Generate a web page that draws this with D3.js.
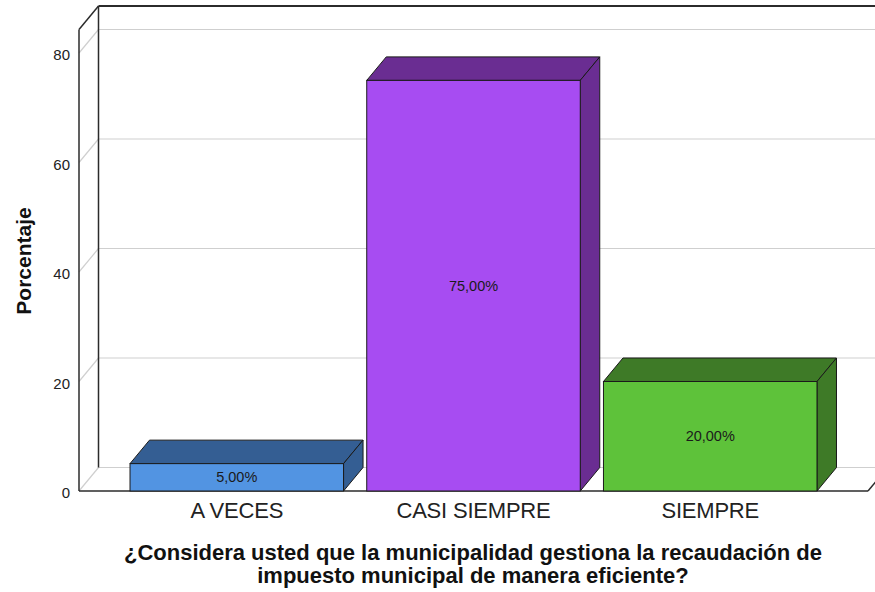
<!DOCTYPE html>
<html>
<head>
<meta charset="utf-8">
<script src="https://cdn.jsdelivr.net/npm/d3@7"></script>
<style>
  html, body { margin: 0; padding: 0; background: #fff; }
  svg { display: block; font-family: "Liberation Sans", Arial, sans-serif; }
</style>
</head>
<body>
<svg id="chart" width="875" height="592"></svg>
<script>
// ---- data ----
const categories = ["A VECES", "CASI SIEMPRE", "SIEMPRE"];
const values = [5, 75, 20];
const valueLabels = ["5,00%", "75,00%", "20,00%"];
const frontColors = ["#5294e2", "#a74cf2", "#5ec23a"];
const sideColors = ["#345e93", "#6a2d92", "#3e7a27"];
const yTicks = [0, 20, 40, 60, 80];
const yTitle = "Porcentaje";
const xTitleLines = ["¿Considera usted que la municipalidad gestiona la recaudación de",
                     "impuesto municipal de manera eficiente?"];

// ---- layout ----
const W = 875, H = 592;
const left = 79, right = 868;
const dx = 19.5, dy = -23.5;
const yMaxWall = 84.3;

const svg = d3.select("#chart");
const y = d3.scaleLinear().domain([0, 80]).range([491, 53]);
const x = d3.scaleBand().domain(categories).range([left, right])
  .paddingInner(0.098).paddingOuter(0.2155);

const y0 = y(0), yTop = y(yMaxWall);
const dark = "#2b2b2b", grid = "#cfcfcf";

const g = svg.append("g");
// gridlines (left wall diagonal + back wall)
yTicks.forEach(t => {
  const yy = y(t);
  g.append("line").attr("x1", left).attr("y1", yy).attr("x2", left + dx).attr("y2", yy + dy)
    .attr("stroke", grid).attr("stroke-width", 1.2);
  g.append("line").attr("x1", left + dx).attr("y1", yy + dy).attr("x2", W + 20).attr("y2", yy + dy)
    .attr("stroke", grid).attr("stroke-width", 1.2);
});
// back wall left edge & top
g.append("line").attr("x1", left + dx).attr("y1", yTop + dy).attr("x2", left + dx).attr("y2", y0 + dy)
  .attr("stroke", dark).attr("stroke-width", 1.5);
g.append("line").attr("x1", left + dx).attr("y1", yTop + dy).attr("x2", W + 20).attr("y2", yTop + dy)
  .attr("stroke", dark).attr("stroke-width", 2);
// left wall front edge & top diagonal
g.append("line").attr("x1", left).attr("y1", yTop).attr("x2", left).attr("y2", y0)
  .attr("stroke", dark).attr("stroke-width", 1.5);
g.append("line").attr("x1", left).attr("y1", yTop).attr("x2", left + dx).attr("y2", yTop + dy)
  .attr("stroke", dark).attr("stroke-width", 1.5);
// floor front edge and right diagonal
g.append("line").attr("x1", left).attr("y1", y0).attr("x2", right).attr("y2", y0)
  .attr("stroke", dark).attr("stroke-width", 1.5);
g.append("line").attr("x1", right).attr("y1", y0).attr("x2", right + dx).attr("y2", y0 + dy)
  .attr("stroke", dark).attr("stroke-width", 1.5);

// ---- bars ----
const data = categories.map((c, i) => ({ c, v: values[i], lab: valueLabels[i], f: frontColors[i], s: sideColors[i] }));
const bars = svg.append("g").selectAll("g").data(data).join("g");
bars.each(function(d) {
  const b = d3.select(this);
  const x0 = x(d.c), w = x.bandwidth(), y1 = y(d.v);
  b.append("path")
    .attr("d", `M${x0},${y1}L${x0 + dx},${y1 + dy}L${x0 + w + dx},${y1 + dy}L${x0 + w},${y1}Z`)
    .attr("fill", d.s).attr("stroke", "#1a1a1a").attr("stroke-width", 1).attr("stroke-linejoin", "round");
  b.append("path")
    .attr("d", `M${x0 + w},${y1}L${x0 + w + dx},${y1 + dy}L${x0 + w + dx},${y0 + dy}L${x0 + w},${y0}Z`)
    .attr("fill", d.s).attr("stroke", "#1a1a1a").attr("stroke-width", 1).attr("stroke-linejoin", "round");
  b.append("rect").attr("x", x0).attr("y", y1).attr("width", w).attr("height", y0 - y1)
    .attr("fill", d.f).attr("stroke", "#1a1a1a").attr("stroke-width", 1);
  b.append("text").attr("x", x0 + w / 2).attr("y", (y1 + y0) / 2)
    .attr("text-anchor", "middle").attr("dominant-baseline", "central")
    .attr("font-size", 14.5).attr("fill", "#1a1a1a").text(d.lab);
});

// ---- y axis labels ----
const yAxis = d3.axisLeft(y).tickValues(yTicks).tickSize(0).tickPadding(0).tickFormat(d3.format("d"));
const ya = svg.append("g").attr("transform", `translate(${left - 9},2)`).call(yAxis);
ya.select(".domain").remove();
ya.selectAll("text").attr("font-size", 15).attr("fill", "#222")
  .attr("font-family", '"Liberation Sans", Arial, sans-serif');

// ---- x category labels ----
svg.append("g").selectAll("text").data(categories).join("text")
  .attr("x", d => x(d) + x.bandwidth() / 2).attr("y", 518)
  .attr("text-anchor", "middle").attr("font-size", 22).attr("fill", "#222")
  .attr("letter-spacing", -0.2)
  .text(d => d);

// ---- axis titles ----
svg.append("text").attr("transform", "translate(31,261) rotate(-90)")
  .attr("text-anchor", "middle").attr("font-size", 21).attr("font-weight", "bold")
  .attr("fill", "#111").text(yTitle);

svg.append("g").selectAll("text").data(xTitleLines).join("text")
  .attr("x", 473).attr("y", (d, i) => 560 + i * 23)
  .attr("text-anchor", "middle").attr("font-size", 22).attr("font-weight", "bold")
  .attr("fill", "#111").text(d => d);
</script>
</body>
</html>
